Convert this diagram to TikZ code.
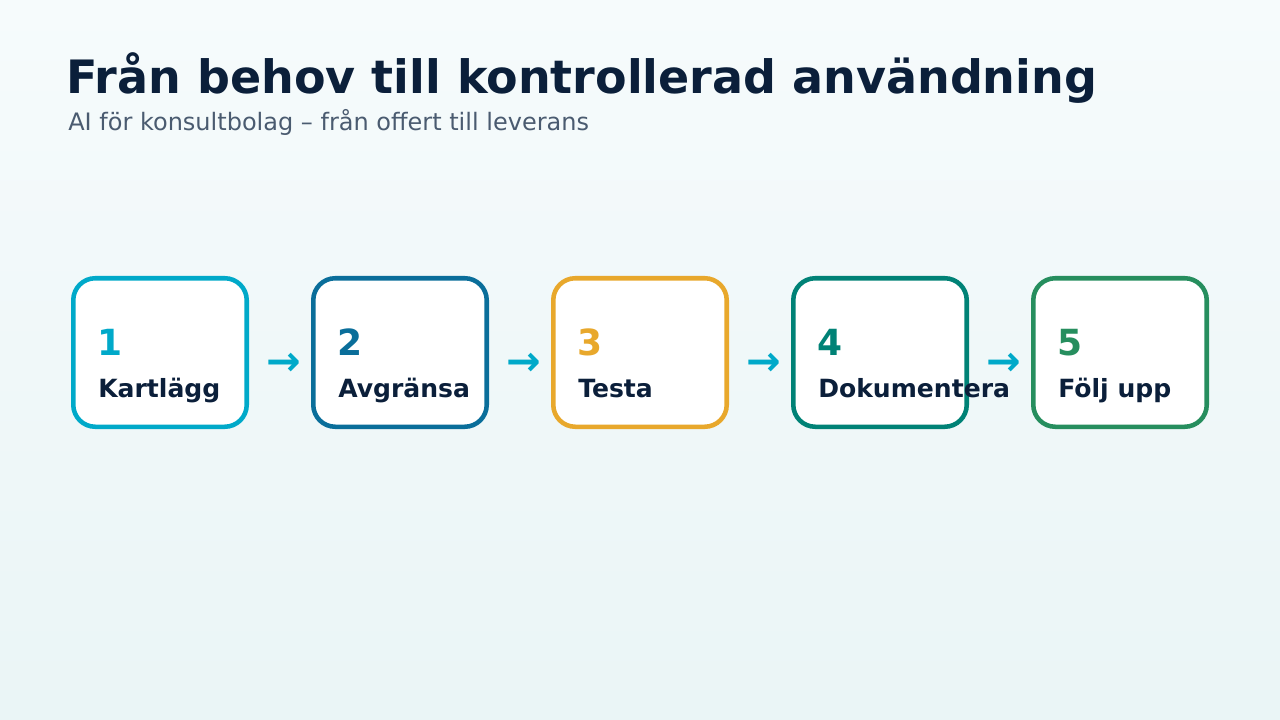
\documentclass[tikz,border=0pt]{standalone}
\usepackage{fontspec}
\setmainfont{DejaVu Sans}
\definecolor{bgtop}{HTML}{F6FBFC}
\definecolor{bgbot}{HTML}{EAF5F6}
\definecolor{navy}{HTML}{0B1F3A}
\definecolor{subgray}{HTML}{4A5B70}
\definecolor{cA}{HTML}{00A9C9}
\definecolor{cB}{HTML}{0A6E9A}
\definecolor{cC}{HTML}{E8A82C}
\definecolor{cD}{HTML}{008276}
\definecolor{cE}{HTML}{268E5E}
\tikzset{
  stepbox/.style={draw, fill=white, line width=3.4pt, rounded corners=16.5pt,
    minimum width=130.1pt, minimum height=111.4pt, inner sep=0pt},
  numtxt/.style={anchor=base west, inner sep=0pt, font=\fontsize{27}{30}\selectfont\bfseries},
  lbltxt/.style={anchor=base west, inner sep=0pt, text=navy, font=\fontsize{18.8}{22}\selectfont\bfseries},
  arrtxt/.style={anchor=base, inner sep=0pt, text=cA, font=\fontsize{31}{34}\selectfont\bfseries}
}
\begin{document}
\begin{tikzpicture}[x=0.75pt,y=-0.75pt]
\useasboundingbox (0,0) rectangle (1280,720);
\shade[top color=bgtop, bottom color=bgbot] (0,0) rectangle (1280,720);
\node[anchor=base west, inner sep=0pt, text=navy, font=\fontsize{34.5}{40}\selectfont\bfseries] (title) at (66,94) {Från behov till kontrollerad användning};
\node[anchor=base west, inner sep=0pt, text=subgray, font=\fontsize{18}{22}\selectfont] (sub) at (68,131) {AI för konsultbolag – från offert till leverans};
\foreach \i/\c/\n/\t in {0/cA/1/Kartlägg, 1/cB/2/Avgränsa, 2/cC/3/Testa, 3/cD/4/Dokumentera, 4/cE/5/Följ upp}{
  \node[stepbox, draw=\c] (box\n) at (160+240*\i, 352.5) {};
  \node[numtxt, text=\c] (num\n) at (97.5+240*\i, 355) {\n};
  \node[lbltxt] (lbl\n) at (98+240*\i, 397) {\t};
}
\foreach \i in {1,2,3,4}{
  \node[arrtxt] (arr\i) at (284+240*\i-240, 375) {→};
}
\end{tikzpicture}
\end{document}
